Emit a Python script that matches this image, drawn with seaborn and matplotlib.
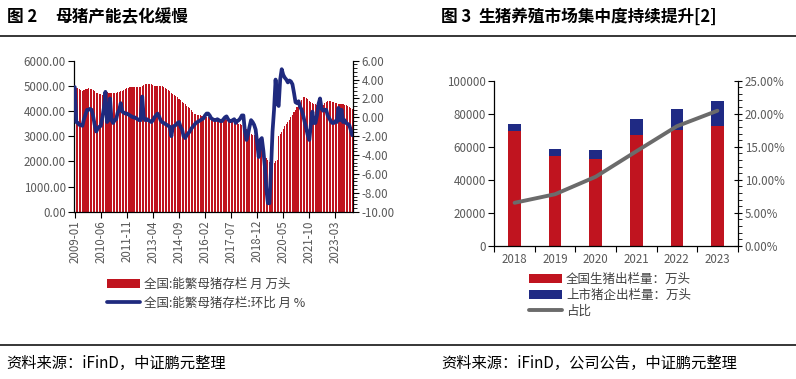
import numpy as np
import pandas as pd
import matplotlib
matplotlib.use("Agg")
import matplotlib.pyplot as plt
from matplotlib.patches import Patch
from matplotlib.lines import Line2D
from matplotlib.ticker import FixedLocator, AutoMinorLocator, FuncFormatter, MultipleLocator
import seaborn as sns

sns.set_theme(style="white")
plt.rcParams['font.family'] = ['Noto Sans CJK SC', 'DejaVu Sans']

# ---------------- data: left chart (monthly, 2009-01 .. 2024-02) ----------------
months = pd.date_range("2009-01-01", "2024-02-01", freq="MS").strftime("%Y-%m").tolist()

sow_stock = [
    5000, 4930, 4910, 4870, 4820, 4800, 4820, 4860, 4880, 4900, 4880, 4880,   # 2009
    4850, 4790, 4720, 4700, 4690, 4660, 4650, 4680, 4720, 4740, 4730, 4730,   # 2010
    4730, 4720, 4700, 4720, 4740, 4760, 4790, 4810, 4850, 4880, 4900, 4920,   # 2011
    4940, 4950, 4960, 4960, 4960, 4960, 4960, 4970, 5010, 5050, 5070, 5080,   # 2012
    5080, 5070, 5060, 5030, 5000, 5000, 5000, 5000, 5000, 4990, 4960, 4930,   # 2013
    4880, 4830, 4780, 4730, 4690, 4640, 4590, 4540, 4490, 4420, 4370, 4310,   # 2014
    4260, 4210, 4160, 4110, 4050, 3950, 3900, 3870, 3860, 3840, 3830, 3800,   # 2015
    3790, 3780, 3770, 3760, 3760, 3750, 3740, 3730, 3720, 3720, 3710, 3700,   # 2016
    3700, 3690, 3680, 3660, 3640, 3620, 3600, 3580, 3560, 3540, 3520, 3500,   # 2017
    3480, 3450, 3420, 3380, 3300, 3200, 3150, 3100, 3060, 3030, 3000, 2960,   # 2018
    2900, 2800, 2600, 2450, 2300, 2150, 2050, 1960, 1910, 1900, 1950, 2010,   # 2019
    2050, 3000, 3080, 3170, 3300, 3400, 3480, 3580, 3650, 3750, 3850, 3950,   # 2020
    4060, 4150, 4250, 4330, 4420, 4564, 4550, 4500, 4460, 4400, 4360, 4330,   # 2021
    4290, 4270, 4230, 4180, 4190, 4200, 4250, 4300, 4340, 4380, 4390, 4390,   # 2022
    4370, 4340, 4320, 4300, 4280, 4270, 4260, 4260, 4250, 4240, 4210, 4160,   # 2023
    4120, 4080,                                                               # 2024
]

sow_mom = [
    3.2, -0.5, -0.6, -0.8, -0.8, -0.9, -0.2, 0.3, 0.8, 0.8, 0.9, 0.8,          # 2009
    0.1, -0.8, -1.5, -1.2, -1.0, -0.9, 0.0, 1.0, 2.7, -0.5, -0.3, 2.0,         # 2010
    -0.3, -0.6, -0.3, -0.2, 0.5, 0.8, 1.5, 0.6, 0.5, 0.4, 0.4, 0.3,            # 2011
    0.2, 0.1, 0.0, 0.0, -0.1, -0.2, -0.3, -0.3, 2.2, 0.0, -0.3, -0.2,          # 2012
    -0.3, -0.4, -0.5, -0.3, 0.0, 0.2, 0.4, 0.1, -0.3, -0.5, -0.6, -0.7,        # 2013
    -0.8, -0.9, -1.0, -2.0, -1.0, -0.9, -0.8, -0.6, -0.5, -1.0, -1.3, -2.0,    # 2014
    -2.2, -1.9, -1.7, -1.5, -1.2, -1.0, -0.8, -0.6, -0.5, -0.4, -0.3, -0.2,    # 2015
    -0.1, 0.2, 0.4, 0.4, 0.2, -0.1, -0.2, -0.3, -0.3, -0.2, -0.3, -0.4,        # 2016
    -0.4, -0.2, 0.0, 0.1, -0.2, -0.4, -0.4, -0.3, -0.2, -0.6, -0.4, -0.3,      # 2017
    -0.1, 0.2, 0.2, -1.5, -2.4, -1.8, -1.0, -0.3, -0.5, -0.8, -1.3, -2.8,      # 2018
    -4.2, -2.4, -2.2, -3.5, -5.2, -7.7, -9.1, -9.1, -5.6, -1.5, 0.8, 4.0,      # 2019
    1.5, 1.2, 4.0, 5.1, 4.5, 4.2, 4.0, 3.7, 3.9, 3.8, 3.5, 2.6,                # 2020
    1.6, 1.5, 1.7, 1.1, 0.8, 0.2, -0.5, -1.2, -1.9, -2.4, -0.8, 0.6,           # 2021
    -0.6, -0.6, 0.2, 1.4, 2.0, 0.9, 0.7, 0.8, 0.8, 0.2, -0.1, -0.4,            # 2022
    -0.6, -0.6, -0.4, -0.5, 1.0, -0.3, 0.8, -0.5, -0.3, -0.6, -0.7, -0.8,      # 2023
    -1.3, -1.9,                                                                # 2024
]

left_tick_labels = ["2009-01", "2010-06", "2011-11", "2013-04", "2014-09", "2016-02",
                    "2017-07", "2018-12", "2020-05", "2021-10", "2023-03"]

# ---------------- data: right chart (yearly) ----------------
years = ["2018", "2019", "2020", "2021", "2022", "2023"]
national_out = [69400, 54400, 52500, 67100, 70100, 72500]
listed_out = [4300, 4200, 5400, 9600, 12700, 15100]
listed_share = [6.5, 7.8, 10.45, 14.3, 18.1, 20.45]

# ---------------- styles ----------------
RED = "#C0141F"
NAVY = "#1F2A7E"
BLUE = "#1F2A84"
GRAY = "#6B6B6B"
TICK = "#595959"
TXT = "#404040"
W, H = 796, 379


def fx(px):
    return px / W


def fy(py):
    return 1 - py / H


fig = plt.figure(figsize=(W / 100, H / 100), dpi=100)
fig.patch.set_facecolor("white")

# ---------------- left chart ----------------
ax1 = fig.add_axes([fx(74), fy(211.7), fx(353) - fx(74), fy(60.7) - fy(211.7)])
df1 = pd.DataFrame({"month": months, "stock": sow_stock, "mom": sow_mom})
sns.barplot(data=df1, x="month", y="stock", color=RED, saturation=1, width=0.72,
            linewidth=0, edgecolor="none", ax=ax1)
N = len(months)
ax1.set_xlim(-0.5, N - 0.5)
ax1.set_ylim(0, 6000)
ax1.yaxis.set_major_locator(MultipleLocator(1000))
ax1.yaxis.set_major_formatter(FuncFormatter(lambda v, p: f"{v:.2f}"))
tick_pos = [months.index(m) for m in left_tick_labels]
ax1.xaxis.set_major_locator(FixedLocator(tick_pos))
ax1.set_xticklabels(left_tick_labels, rotation=90)
ax1.set_xlabel("")
ax1.set_ylabel("")

ax2 = ax1.twinx()
sns.lineplot(x=np.arange(N), y=sow_mom, ax=ax2, color=NAVY, linewidth=2.7)
ax2.set_ylim(-10, 6)
ax2.yaxis.set_major_locator(MultipleLocator(2))
ax2.yaxis.set_minor_locator(AutoMinorLocator(5))
ax2.yaxis.set_major_formatter(FuncFormatter(lambda v, p: f"{v:.2f}"))
ax2.set_xlim(-0.5, N - 0.5)

for a in (ax1, ax2):
    a.spines["top"].set_visible(False)
    for s in ("left", "right", "bottom"):
        a.spines[s].set_color("black")
        a.spines[s].set_linewidth(0.9)
ax1.spines["right"].set_visible(False)
ax2.spines["left"].set_visible(False)
ax2.spines["bottom"].set_visible(False)
ax1.tick_params(axis="y", which="major", direction="out", length=4, width=0.8,
                color="black", labelsize=8.3, labelcolor=TICK, pad=2, left=True)
ax1.tick_params(axis="x", which="major", direction="out", length=4, width=0.8,
                color="black", labelsize=8.3, labelcolor=TICK, pad=2, bottom=True)
ax2.tick_params(axis="y", which="major", direction="out", length=4, width=0.8,
                color="black", labelsize=8.3, labelcolor=TICK, pad=2, right=True)
ax2.tick_params(axis="y", which="minor", direction="out", length=3, width=0.6,
                color="black", right=True)
ax2.set_ylabel("")

leg1 = ax1.legend(
    handles=[Patch(facecolor=RED, edgecolor="none"),
             Line2D([0], [0], color=NAVY, linewidth=2.7)],
    labels=["全国:能繁母猪存栏 月 万头", "全国:能繁母猪存栏:环比 月 %"],
    loc="upper left", bbox_to_anchor=(fx(107), fy(278)), bbox_transform=fig.transFigure,
    frameon=False, fontsize=9, handlelength=2.6, handleheight=0.7,
    handletextpad=0.4, labelspacing=0.45, borderaxespad=0, borderpad=0)
for t in leg1.get_texts():
    t.set_color(TXT)

# ---------------- right chart ----------------
ax3 = fig.add_axes([fx(494.3), fy(245.7), fx(737.7) - fx(494.3), fy(80.7) - fy(245.7)])
df3 = pd.DataFrame({"year": years, "national": national_out, "listed": listed_out})
df3["total"] = df3["national"] + df3["listed"]
sns.barplot(data=df3, x="year", y="total", color=BLUE, saturation=1, width=0.31,
            linewidth=0, edgecolor="none", ax=ax3)
sns.barplot(data=df3, x="year", y="national", color=RED, saturation=1, width=0.31,
            linewidth=0, edgecolor="none", ax=ax3)
ax3.set_xlim(-0.5, len(years) - 0.5)
ax3.set_ylim(0, 100000)
ax3.yaxis.set_major_locator(MultipleLocator(20000))
ax3.yaxis.set_major_formatter(FuncFormatter(lambda v, p: f"{int(v)}"))
ax3.xaxis.set_major_locator(FixedLocator([i - 0.5 for i in range(len(years) + 1)]))
ax3.xaxis.set_major_formatter(FuncFormatter(lambda v, p: ""))
ax3.xaxis.set_minor_locator(FixedLocator(list(range(len(years)))))
ax3.set_xticklabels(years, minor=True)
ax3.set_xlabel("")
ax3.set_ylabel("")

ax4 = ax3.twinx()
sns.lineplot(x=np.arange(len(years)), y=listed_share, ax=ax4, color=GRAY, linewidth=2.8)
ax4.set_ylim(0, 25)
ax4.yaxis.set_major_locator(MultipleLocator(5))
ax4.yaxis.set_minor_locator(AutoMinorLocator(5))
ax4.yaxis.set_major_formatter(FuncFormatter(lambda v, p: f"{v:.2f}%"))
ax4.set_xlim(-0.5, len(years) - 0.5)
ax4.set_ylabel("")

for a in (ax3, ax4):
    a.spines["top"].set_visible(False)
    for s in ("left", "right", "bottom"):
        a.spines[s].set_color("black")
        a.spines[s].set_linewidth(0.9)
ax3.spines["right"].set_visible(False)
ax4.spines["left"].set_visible(False)
ax4.spines["bottom"].set_visible(False)
ax3.tick_params(axis="y", which="major", direction="out", length=4, width=0.8,
                color="black", labelsize=8.3, labelcolor=TICK, pad=2, left=True)
ax3.tick_params(axis="x", which="major", direction="out", length=4, width=0.8,
                color="black", bottom=True)
ax3.tick_params(axis="x", which="minor", length=0, labelsize=8.3, labelcolor=TICK, pad=5)
ax4.tick_params(axis="y", which="major", direction="inout", length=6, width=0.8,
                color="black", labelsize=8.3, labelcolor=TICK, pad=2, right=True)
ax4.tick_params(axis="y", which="minor", direction="out", length=3, width=0.6,
                color="black", right=True)

leg3 = ax3.legend(
    handles=[Patch(facecolor=RED, edgecolor="none"),
             Patch(facecolor=BLUE, edgecolor="none"),
             Line2D([0], [0], color=GRAY, linewidth=2.8)],
    labels=["全国生猪出栏量：万头", "上市猪企出栏量：万头", "占比"],
    loc="upper left", bbox_to_anchor=(fx(529), fy(273)), bbox_transform=fig.transFigure,
    frameon=False, fontsize=9, handlelength=2.6, handleheight=0.7,
    handletextpad=0.35, labelspacing=0.22, borderaxespad=0, borderpad=0)
for t in leg3.get_texts():
    t.set_color(TXT)

# ---------------- titles, rules, sources ----------------
fig.text(fx(7), fy(17), "图 2", fontsize=12, fontweight="bold", color="black", va="center")
fig.text(fx(55), fy(17), "母猪产能去化缓慢", fontsize=12, fontweight="bold", color="black", va="center")
fig.text(fx(441), fy(17), "图 3", fontsize=12, fontweight="bold", color="black", va="center")
fig.text(fx(478), fy(17), "生猪养殖市场集中度持续提升[2]", fontsize=12, fontweight="bold",
         color="black", va="center")

fig.add_artist(Line2D([0, 1], [fy(35.5), fy(35.5)], transform=fig.transFigure,
                      color="black", linewidth=1.1))
fig.add_artist(Line2D([0, 1], [fy(345), fy(345)], transform=fig.transFigure,
                      color="black", linewidth=1.1))

fig.text(fx(6), fy(363), "资料来源：iFinD，中证鹏元整理", fontsize=11, color="black", va="center")
fig.text(fx(441), fy(363), "资料来源：iFinD，公司公告，中证鹏元整理", fontsize=11,
         color="black", va="center")

fig.savefig("out.png", dpi=100, facecolor="white")
